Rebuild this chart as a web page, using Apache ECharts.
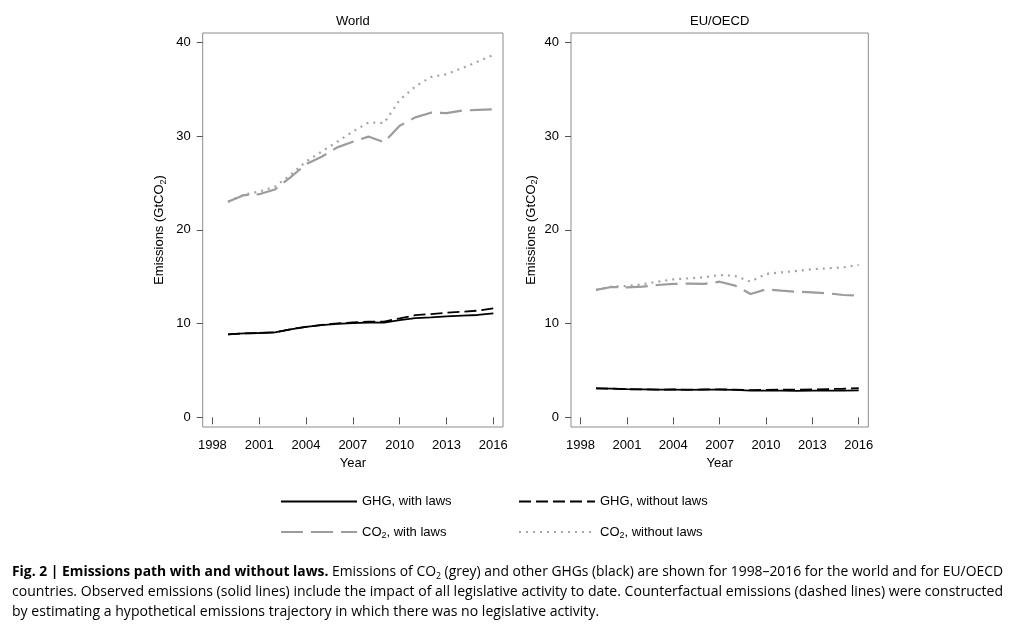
<!DOCTYPE html>
<html>
<head>
<meta charset="utf-8">
<script src="https://cdn.jsdelivr.net/npm/echarts@6/dist/echarts.min.js"></script>
<style>
html,body{margin:0;padding:0;background:#fff;}
#chart{width:1023px;height:638px;}
</style>
</head>
<body>
<div id="chart"></div>
<script>
const years = [1999,2000,2001,2002,2003,2004,2005,2006,2007,2008,2009,2010,2011,2012,2013,2014,2015,2016];
const xTicks = [1998,2001,2004,2007,2010,2013,2016];
const yTicks = [0,10,20,30,40];
const panelTitles = ['World','EU/OECD'];
const seriesNames = ['GHG, with laws','GHG, without laws','CO2, with laws','CO2, without laws'];

const worldGhgWith    = [8.86,8.95,9.00,9.07,9.39,9.65,9.83,9.98,10.05,10.12,10.10,10.36,10.58,10.66,10.77,10.85,10.92,11.08];
const worldGhgWithout = [8.86,8.95,9.00,9.07,9.39,9.66,9.86,10.02,10.13,10.20,10.22,10.55,10.90,11.02,11.16,11.27,11.38,11.63];
const worldCo2With    = [23.0,23.7,23.8,24.3,25.6,27.0,27.8,28.8,29.4,29.95,29.35,31.1,32.0,32.5,32.45,32.72,32.8,32.87];
const worldCo2Without = [23.0,23.75,24.08,24.6,25.86,27.28,28.35,29.4,30.48,31.45,31.4,33.86,35.3,36.3,36.6,37.25,37.95,38.67];

const euGhgWith    = [3.08,3.06,3.00,2.98,2.96,2.96,2.94,2.95,2.95,2.92,2.85,2.85,2.85,2.83,2.84,2.85,2.86,2.88];
const euGhgWithout = [3.08,3.06,3.00,2.98,2.96,2.97,2.96,2.97,2.98,2.96,2.90,2.93,2.95,2.96,2.98,3.02,3.05,3.12];
const euCo2With    = [13.59,13.9,13.87,13.94,14.12,14.23,14.26,14.23,14.47,14.05,13.16,13.66,13.51,13.4,13.34,13.23,13.05,12.98];
const euCo2Without = [13.59,13.94,14.0,14.19,14.47,14.72,14.83,14.94,15.19,15.08,14.47,15.3,15.47,15.62,15.8,15.9,16.0,16.25];

const pair = arr => years.map((y, i) => [y, arr[i]]);

const FONT = "'Liberation Sans', Arial, Helvetica, sans-serif";
const CAPFONT = "'Open Sans', 'Liberation Sans', sans-serif";
const CAPSIZE = 15;

const styles = [
  {color:'#000000', width:1.8, type:'solid'},
  {color:'#000000', width:1.8, type:[12,5]},
  {color:'#9c9c9c', width:2.2, type:[22,8]},
  {color:'#a4a4a4', width:2.2, type:[2,5]}
];

const grids = [
  {left:202.7, top:33, width:300.3, height:394},
  {left:571, top:33, width:297.3, height:394}
];

const panelData = [
  [worldGhgWith, worldGhgWithout, worldCo2With, worldCo2Without],
  [euGhgWith, euGhgWithout, euCo2With, euCo2Without]
];

const series = [];
panelData.forEach((arrs, p) => {
  arrs.forEach((arr, k) => {
    series.push({
      name: seriesNames[k],
      type: 'line',
      xAxisIndex: p,
      yAxisIndex: p,
      data: pair(arr),
      symbol: 'none',
      showSymbol: false,
      lineStyle: {color: styles[k].color, width: styles[k].width, type: styles[k].type},
      itemStyle: {color: styles[k].color},
      z: 2 + (3 - k)
    });
  });
});

const richLbl = {
  t: {fontFamily: FONT, fontSize: 13, color: '#000', lineHeight: 16},
  s: {fontFamily: FONT, fontSize: 9, color: '#000', lineHeight: 9, verticalAlign: 'bottom'}
};

function legendFmt(name) {
  if (name.indexOf('CO2') === 0) {
    return '{t|CO}{s|2}{t|' + name.slice(3) + '}';
  }
  return '{t|' + name + '}';
}

const xAxes = grids.map((g, i) => ({
  type: 'value',
  gridIndex: i,
  min: 1997.38,
  max: 2016.62,
  axisLine: {show: false},
  splitLine: {show: false},
  axisTick: {show: true, length: 7, customValues: xTicks, lineStyle: {color: '#555', width: 1}},
  axisLabel: {customValues: xTicks, formatter: v => String(v), color: '#000', fontFamily: FONT, fontSize: 13, margin: 12},
  name: 'Year',
  nameLocation: 'middle',
  nameGap: 29,
  nameTextStyle: {color: '#000', fontFamily: FONT, fontSize: 13}
}));

const yAxes = grids.map((g, i) => ({
  type: 'value',
  gridIndex: i,
  min: -1.03,
  max: 41.0,
  axisLine: {show: false},
  splitLine: {show: false},
  axisTick: {show: true, length: 6, customValues: yTicks, lineStyle: {color: '#555', width: 1}},
  axisLabel: {customValues: yTicks, formatter: v => String(v), color: '#000', fontFamily: FONT, fontSize: 13, margin: 12},
  name: '{t|Emissions (GtCO}{s|2}{t|)}',
  nameLocation: 'middle',
  nameRotate: 90,
  nameGap: i === 0 ? 35 : 32,
  nameTextStyle: {rich: richLbl}
}));

// caption: segments [style, text]
const captionSegs = [
  [['b','Fig. 2 | Emissions path with and without laws.'],['n',' Emissions of CO'],['s','2'],['n',' (grey) and other GHGs (black) are shown for 1998–2016 for the world and for EU/OECD']],
  [['n','countries. Observed emissions (solid lines) include the impact of all legislative activity to date. Counterfactual emissions (dashed lines) were constructed']],
  [['n','by estimating a hypothetical emissions trajectory in which there was no legislative activity.']]
];
const captionTargetWidth = 991;
const captionTops = [563, 583, 602.5];

const segFont = {
  b: 'bold ' + CAPSIZE + 'px ' + CAPFONT,
  n: CAPSIZE + 'px ' + CAPFONT,
  s: '9.5px ' + CAPFONT
};
const mctx = document.createElement('canvas').getContext('2d');
function measureLine(segs) {
  let w = 0;
  segs.forEach(([st, tx]) => { mctx.font = segFont[st]; w += mctx.measureText(tx).width; });
  return w;
}
const scales = captionSegs.map(segs => captionTargetWidth / measureLine(segs));
scales[2] = scales[1];

const captionRich = {
  b: {fontFamily: CAPFONT, fontWeight: 'bold', fontSize: CAPSIZE, color: '#000', lineHeight: 18},
  n: {fontFamily: CAPFONT, fontSize: CAPSIZE, color: '#000', lineHeight: 18},
  s: {fontFamily: CAPFONT, fontSize: 9.5, color: '#000', lineHeight: 10, verticalAlign: 'bottom'}
};

const chart = echarts.init(document.getElementById('chart'), null, {renderer: 'canvas'});
chart.setOption({
  animation: false,
  backgroundColor: '#fff',
  title: grids.map((g, i) => ({
    text: panelTitles[i],
    left: g.left + g.width / 2,
    top: 15,
    textAlign: 'center',
    padding: 0,
    textStyle: {fontFamily: FONT, fontSize: 13, fontWeight: 'normal', color: '#000'}
  })),
  grid: grids.map(g => Object.assign({show: true, borderColor: '#8c8c8c', borderWidth: 1, backgroundColor: 'transparent', containLabel: false}, g)),
  xAxis: xAxes,
  yAxis: yAxes,
  legend: [
    {data: [seriesNames[0], seriesNames[2]], orient: 'vertical', left: 280, top: 495, padding: 0,
     itemWidth: 76, itemHeight: 14, itemGap: 17.6, formatter: legendFmt, textStyle: {rich: richLbl},
     itemStyle: {opacity: 0}, selectedMode: false},
    {data: [seriesNames[1], seriesNames[3]], orient: 'vertical', left: 518, top: 495, padding: 0,
     itemWidth: 76, itemHeight: 14, itemGap: 17.6, formatter: legendFmt, textStyle: {rich: richLbl},
     itemStyle: {opacity: 0}, selectedMode: false}
  ],
  graphic: captionSegs.map((segs, i) => ({
    type: 'text',
    x: 12,
    y: captionTops[i],
    scaleX: scales[i],
    style: {
      text: segs.map(([st, tx]) => '{' + st + '|' + tx + '}').join(''),
      rich: captionRich,
      x: 0, y: 0,
      verticalAlign: 'top'
    }
  })),
  series: series
});
</script>
</body>
</html>
